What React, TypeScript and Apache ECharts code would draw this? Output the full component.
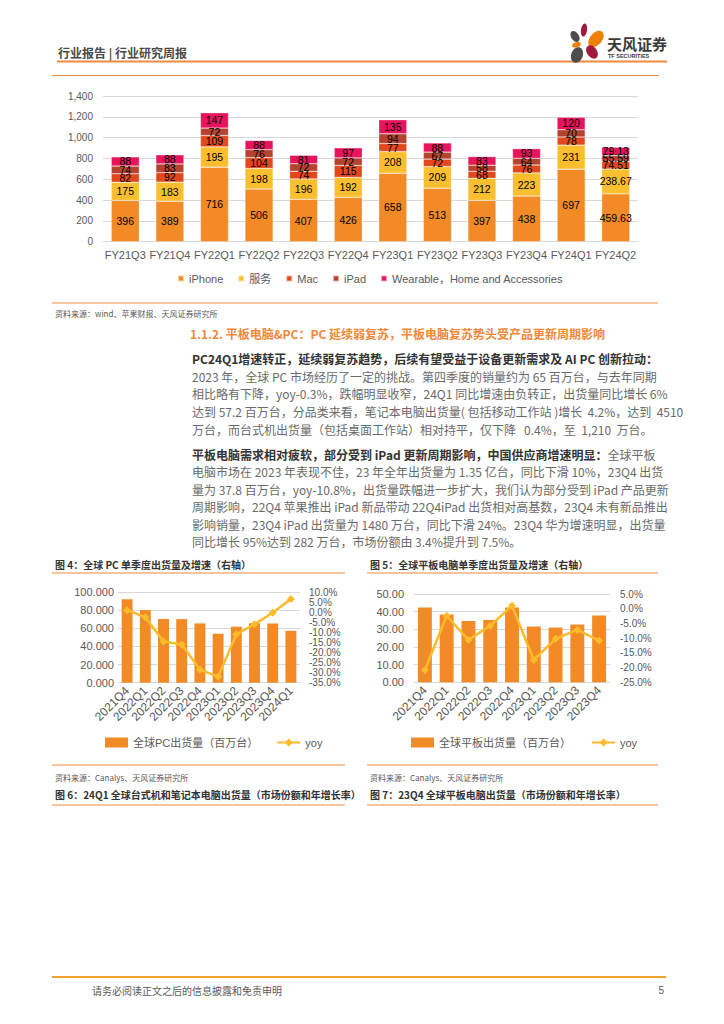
import React, { useEffect, useRef } from "react";
import * as echarts from "echarts";

// ---------- Data ----------
const quarters = ["FY21Q3", "FY21Q4", "FY22Q1", "FY22Q2", "FY22Q3", "FY22Q4", "FY23Q1", "FY23Q2", "FY23Q3", "FY23Q4", "FY24Q1", "FY24Q2"];
const iphone = [396, 389, 716, 506, 407, 426, 658, 513, 397, 438, 697, 459.63];
const services = [175, 183, 195, 198, 196, 192, 208, 209, 212, 223, 231, 238.67];
const mac = [82, 92, 109, 104, 74, 115, 77, 72, 68, 76, 78, 74.51];
const ipad = [74, 83, 72, 76, 72, 72, 94, 67, 58, 64, 70, 55.59];
const wearable = [88, 88, 147, 88, 81, 97, 135, 88, 83, 93, 120, 79.13];

const pcQuarters = ["2021Q4", "2022Q1", "2022Q2", "2022Q3", "2022Q4", "2023Q1", "2023Q2", "2023Q3", "2023Q4", "2024Q1"];
const pcShip = [92.0, 80.1, 70.3, 70.1, 65.4, 54.0, 61.8, 65.6, 65.3, 57.2];
const pcYoy = [1.0, -2.5, -14.5, -16.0, -28.5, -32.0, -11.0, -6.0, -0.3, 6.5];

const tabQuarters = ["2021Q4", "2022Q1", "2022Q2", "2022Q3", "2022Q4", "2023Q1", "2023Q2", "2023Q3", "2023Q4"];
const tabShip = [42.3, 38.4, 34.7, 35.3, 42.4, 31.6, 31.0, 32.7, 37.8];
const tabYoy = [-20.8, -2.4, -10.6, -5.8, 1.0, -17.4, -10.2, -7.2, -10.8];

// ---------- Styles ----------
const LAT = '"Liberation Sans", Arial, "Noto Sans CJK SC", sans-serif';
const CJK = '"Noto Sans CJK SC", "Liberation Sans", sans-serif';
const ORANGE_LINE = "#F08A3C";
const C_IPHONE = "#F28A26";
const C_SERV = "#FBBE2E";
const C_MAC = "#E2481E";
const C_IPAD = "#B5432F";
const C_WEAR = "#E8145C";
const C_BAR = "#F28A26";
const C_YOY = "#FBBB2A";
const GRID = "#D9D9D9";
const AXT = "#595959";

function txt(x: number, y: number, text: string, size: number, color: string, weight: any = "normal", align = "left", family = CJK) {
  return {
    type: "text", x, y, silent: true,
    style: { text, fontSize: size, fontFamily: family, fontWeight: weight, fill: color, textAlign: align, textVerticalAlign: "middle" },
  };
}
function hline(x1: number, x2: number, y: number, color: string, w: number) {
  return { type: "line", silent: true, shape: { x1, y1: y, x2, y2: y }, style: { stroke: color, lineWidth: w } };
}
function petal(cx: number, cy: number, rx: number, ry: number, rot: number, fill: string) {
  return { type: "ellipse", x: cx, y: cy, rotation: rot, silent: true, shape: { cx: 0, cy: 0, rx, ry }, style: { fill } };
}

const BODY = "#6a6a6a";
const BOLD = "#333333";

const para1 = [
  "2023 年，全球 PC 市场经历了一定的挑战。第四季度的销量约为 65 百万台，与去年同期",
  "相比略有下降，yoy-0.3%，跌幅明显收窄，24Q1 同比增速由负转正，出货量同比增长 6%",
  "达到 57.2 百万台，分品类来看，笔记本电脑出货量( 包括移动工作站 )增长  4.2%，达到  4510",
  "万台，而台式机出货量（包括桌面工作站）相对持平，仅下降   0.4%，至  1,210  万台。",
];
const para2 = [
  "电脑市场在 2023 年表现不佳，23 年全年出货量为 1.35 亿台，同比下滑 10%，23Q4 出货",
  "量为 37.8 百万台，yoy-10.8%，出货量跌幅进一步扩大，我们认为部分受到 iPad 产品更新",
  "周期影响，22Q4 苹果推出 iPad 新品带动 22Q4iPad 出货相对高基数，23Q4 未有新品推出",
  "影响销量，23Q4 iPad 出货量为 1480 万台，同比下滑 24%。23Q4 华为增速明显，出货量",
  "同比增长 95%达到 282 万台，市场份额由 3.4%提升到 7.5%。",
];

function buildGraphics() {
  const g: any[] = [];
  // header
  g.push(txt(58, 52, "行业报告 | 行业研究周报", 12, "#4a4a4a", "bold"));
  g.push(hline(57, 667, 61.5, ORANGE_LINE, 2));
  g.push(hline(52, 659, 75.5, ORANGE_LINE, 1.2));
  // logo
  g.push(petal(584, 30, 3, 6.5, -0.15, "#A3193E"));
  g.push(petal(575, 36.5, 3.8, 6, 0.6, "#4D4D4D"));
  g.push(petal(596, 39, 6, 9.5, -0.7, "#EE7F00"));
  g.push(petal(576.5, 44.8, 4.5, 2.6, 0.25, "#EE7F00"));
  g.push(petal(577, 55, 5.8, 8, -0.35, "#4D4D4D"));
  g.push(petal(592, 52, 5, 7.3, 0.6, "#A3193E"));
  g.push(txt(607, 43, "天风证券", 15, "#3a3a3a", "bold"));
  g.push(txt(608, 56, "TF SECURITIES", 5.5, "#3a3a3a", "bold", "left", LAT));

  // below chart 1
  g.push(hline(52, 658, 303, ORANGE_LINE, 1.2));
  g.push(txt(55, 313, "资料来源：wind、苹果财报、天风证券研究所", 8, AXT));
  g.push(txt(190, 333, "1.1.2. 平板电脑&PC：PC 延续弱复苏，平板电脑复苏势头受产品更新周期影响", 12, "#F0883A", "bold"));

  // paragraph 1
  g.push(txt(192, 358, "PC24Q1增速转正，延续弱复苏趋势，后续有望受益于设备更新需求及 AI PC 创新拉动：", 12, BOLD, "bold"));
  para1.forEach((s, i) => g.push(txt(192, 376 + i * 17.8, s, 12, BODY)));
  // paragraph 2
  g.push({
    type: "text", x: 192, y: 454, silent: true,
    style: {
      text: "{b|平板电脑需求相对疲软，部分受到 iPad 更新周期影响，中国供应商增速明显：}{n|全球平板}",
      textVerticalAlign: "middle",
      rich: {
        b: { fontSize: 12, fontFamily: CJK, fontWeight: "bold", fill: BOLD, color: BOLD },
        n: { fontSize: 12, fontFamily: CJK, fontWeight: "normal", fill: BODY, color: BODY },
      },
    },
  });
  para2.forEach((s, i) => g.push(txt(192, 471.5 + i * 17.6, s, 12, BODY)));

  // figure titles 4/5
  g.push(txt(55, 564, "图 4：全球 PC 单季度出货量及增速（右轴）", 10, BOLD, "bold"));
  g.push(hline(52, 345, 573, ORANGE_LINE, 1.2));
  g.push(txt(370, 564, "图 5：全球平板电脑单季度出货量及增速（右轴）", 10, BOLD, "bold"));
  g.push(hline(367, 658, 573, ORANGE_LINE, 1.2));

  // bottom of charts
  g.push(hline(52, 345, 765, ORANGE_LINE, 1.2));
  g.push(hline(367, 658, 765, ORANGE_LINE, 1.2));
  g.push(txt(55, 777, "资料来源：Canalys、天风证券研究所", 8, AXT));
  g.push(txt(370, 777, "资料来源：Canalys、天风证券研究所", 8, AXT));
  g.push(txt(55, 794, "图 6：24Q1 全球台式机和笔记本电脑出货量（市场份额和年增长率）", 10, BOLD, "bold"));
  g.push(txt(370, 794, "图 7：23Q4 全球平板电脑出货量（市场份额和年增长率）", 10, BOLD, "bold"));
  g.push(hline(52, 345, 805, ORANGE_LINE, 1.2));
  g.push(hline(367, 658, 805, ORANGE_LINE, 1.2));

  // footer
  g.push(hline(52, 666, 977, "#F0A030", 2));
  g.push(txt(92, 990, "请务必阅读正文之后的信息披露和免责申明", 10, AXT));
  g.push(txt(664, 990, "5", 10, AXT, "normal", "right", LAT));
  return g;
}

function stackSeries(name: string, data: number[], color: string) {
  return {
    name, type: "bar", stack: "total", xAxisIndex: 0, yAxisIndex: 0, data,
    barCategoryGap: "37%",
    itemStyle: { color, borderColor: "rgba(255,255,255,0.6)", borderWidth: 0.5 },
    label: { show: true, position: "inside", color: "#000", fontSize: 10.5, fontFamily: LAT },
  };
}

function buildOption() {
  const axisLabelBase = { color: AXT, fontFamily: LAT };
  return {
    animation: false,
    backgroundColor: "#ffffff",
    textStyle: { fontFamily: LAT },
    graphic: { elements: buildGraphics() },
    legend: [
      {
        left: 172, top: 268, icon: "rect", itemWidth: 6, itemHeight: 6, itemGap: 14,
        textStyle: { color: AXT, fontSize: 11, fontFamily: LAT },
        data: ["iPhone", "服务", "Mac", "iPad", "Wearable，Home and Accessories"],
      },
      {
        left: 100, top: 732, itemGap: 18, itemWidth: 23, itemHeight: 10,
        textStyle: { color: AXT, fontSize: 11, fontFamily: LAT },
        data: [{ name: "全球PC出货量（百万台）", icon: "rect" }, { name: "yoy" }],
      },
      {
        left: 406, top: 732, itemGap: 20, itemWidth: 23, itemHeight: 10,
        textStyle: { color: AXT, fontSize: 11, fontFamily: LAT },
        data: [{ name: "全球平板出货量（百万台）", icon: "rect" }, { name: "yoy " }],
      },
    ],
    grid: [
      { left: 103, right: 86, top: 96, bottom: 1024 - 241.7, containLabel: false },
      { left: 118, right: 424, top: 592, bottom: 1024 - 682.7, containLabel: false },
      { left: 414, right: 114, top: 594, bottom: 1024 - 682.3, containLabel: false },
    ],
    xAxis: [
      {
        gridIndex: 0, type: "category", data: quarters,
        axisLine: { lineStyle: { color: GRID } }, axisTick: { show: false },
        axisLabel: { ...axisLabelBase, fontSize: 11, margin: 8, interval: 0 },
      },
      {
        gridIndex: 1, type: "category", data: pcQuarters,
        axisLine: { lineStyle: { color: GRID } }, axisTick: { show: false },
        axisLabel: { ...axisLabelBase, fontSize: 12, margin: 6, rotate: 45, interval: 0 },
      },
      {
        gridIndex: 2, type: "category", data: tabQuarters,
        axisLine: { lineStyle: { color: GRID } }, axisTick: { show: false },
        axisLabel: { ...axisLabelBase, fontSize: 12, margin: 6, rotate: 45, interval: 0 },
      },
    ],
    yAxis: [
      {
        gridIndex: 0, type: "value", min: 0, max: 1400, interval: 200,
        axisLine: { show: false }, axisTick: { show: false },
        splitLine: { lineStyle: { color: GRID } },
        axisLabel: { ...axisLabelBase, fontSize: 10, margin: 10, formatter: (v: number) => v.toLocaleString("en-US") },
      },
      {
        gridIndex: 1, type: "value", min: 0, max: 100, interval: 20,
        axisLine: { show: false }, axisTick: { show: false },
        splitLine: { lineStyle: { color: GRID } },
        axisLabel: { ...axisLabelBase, fontSize: 11, margin: 4, formatter: (v: number) => v.toFixed(3) },
      },
      {
        gridIndex: 1, type: "value", position: "right", min: -35, max: 10, interval: 5,
        axisLine: { show: false }, axisTick: { show: false }, splitLine: { show: false },
        axisLabel: { ...axisLabelBase, fontSize: 10, margin: 9, formatter: (v: number) => v.toFixed(1) + "%" },
      },
      {
        gridIndex: 2, type: "value", min: 0, max: 50, interval: 10,
        axisLine: { show: false }, axisTick: { show: false },
        splitLine: { lineStyle: { color: GRID } },
        axisLabel: { ...axisLabelBase, fontSize: 11, margin: 10, formatter: (v: number) => v.toFixed(2) },
      },
      {
        gridIndex: 2, type: "value", position: "right", min: -25, max: 5, interval: 5,
        axisLine: { show: false }, axisTick: { show: false }, splitLine: { show: false },
        axisLabel: { ...axisLabelBase, fontSize: 10, margin: 10, formatter: (v: number) => v.toFixed(1) + "%" },
      },
    ],
    series: [
      stackSeries("iPhone", iphone, C_IPHONE),
      stackSeries("服务", services, C_SERV),
      stackSeries("Mac", mac, C_MAC),
      stackSeries("iPad", ipad, C_IPAD),
      stackSeries("Wearable，Home and Accessories", wearable, C_WEAR),
      {
        name: "全球PC出货量（百万台）", type: "bar", xAxisIndex: 1, yAxisIndex: 1, data: pcShip,
        barCategoryGap: "40%", itemStyle: { color: C_BAR },
      },
      {
        name: "yoy", type: "line", xAxisIndex: 1, yAxisIndex: 2, data: pcYoy,
        symbol: "diamond", symbolSize: 8, lineStyle: { color: C_YOY, width: 2.5 }, itemStyle: { color: C_YOY },
      },
      {
        name: "全球平板出货量（百万台）", type: "bar", xAxisIndex: 2, yAxisIndex: 3, data: tabShip,
        barCategoryGap: "36%", itemStyle: { color: C_BAR },
      },
      {
        name: "yoy ", type: "line", xAxisIndex: 2, yAxisIndex: 4, data: tabYoy,
        symbol: "diamond", symbolSize: 8, lineStyle: { color: C_YOY, width: 2.5 }, itemStyle: { color: C_YOY },
      },
    ],
  };
}

export default function App() {
  const ref = useRef<HTMLDivElement | null>(null);
  useEffect(() => {
    document.body.style.margin = "0";
    const chart = echarts.init(ref.current as HTMLDivElement, null, { renderer: "svg", width: 724, height: 1024 });
    chart.setOption(buildOption() as any);
    return () => chart.dispose();
  }, []);
  return <div ref={ref} style={{ position: "absolute", left: 0, top: 0, width: 724, height: 1024, background: "#fff" }} />;
}
